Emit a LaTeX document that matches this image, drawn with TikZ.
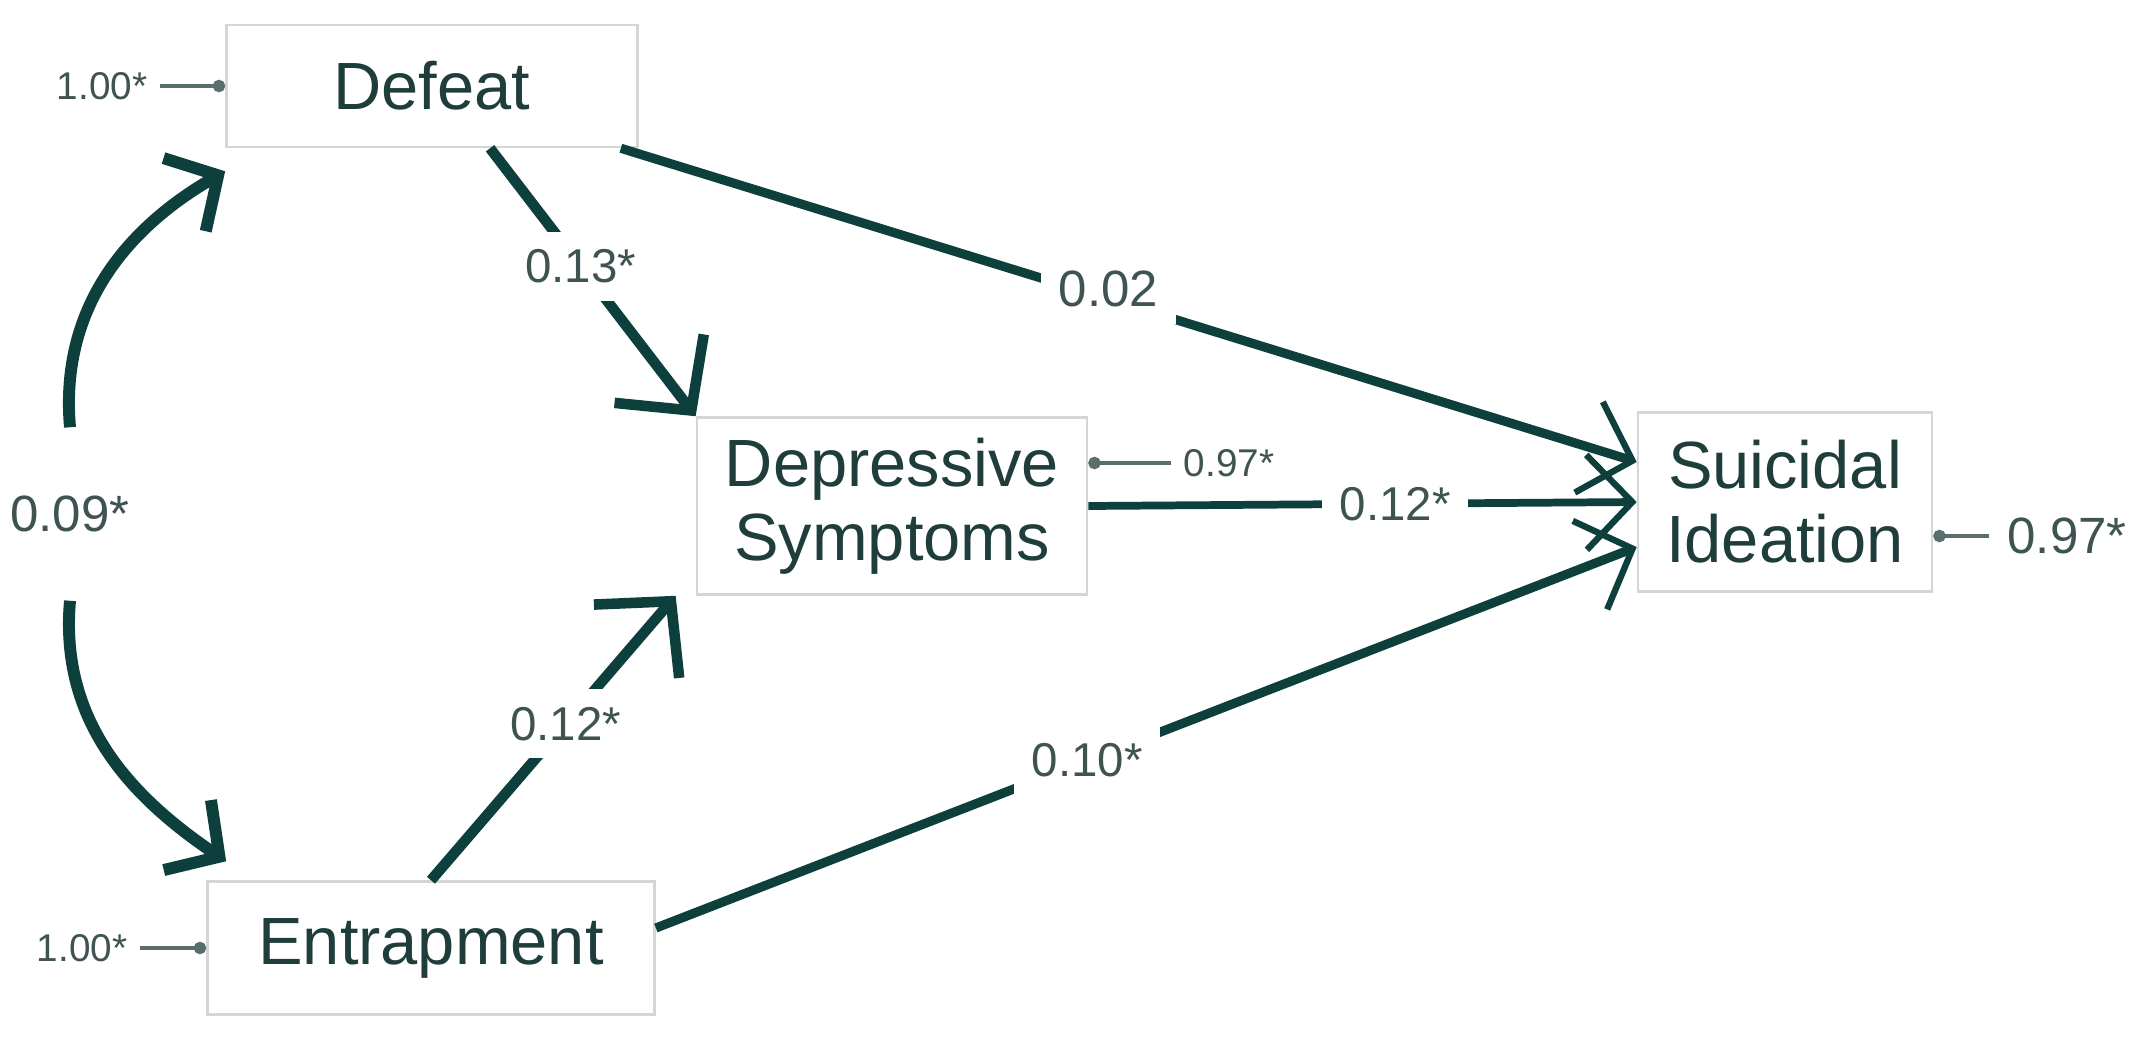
\documentclass[tikz,border=0pt]{standalone}
\usepackage{fontspec}
\setmainfont{Liberation Sans}
\usetikzlibrary{arrows.meta}
\definecolor{pathteal}{HTML}{0D3F3C}
\definecolor{boxgrey}{HTML}{D2D6D6}
\definecolor{txtteal}{HTML}{1E3D3B}
\definecolor{lblgrey}{HTML}{3E5352}
\definecolor{residgrey}{HTML}{5A6E6D}

\begin{document}
\begin{tikzpicture}[x=0.01cm,y=-0.01cm,
        var/.style={draw=boxgrey,line width=0.7pt,fill=white,text=txtteal,align=center,
            font=\fontsize{19}{21}\selectfont},
        coef/.style={pathteal,line width=2.6pt,-{Straight Barb[length=13pt,width=27pt,line width=1.8pt]}},
        bighead/.style={-{Straight Barb[length=15pt,width=32pt]}},
        covar/.style={pathteal,line width=3.4pt,-{Straight Barb[length=11pt,width=24pt]}},
        lbl/.style={fill=white,text=lblgrey,inner sep=5pt,font=\fontsize{13.5}{15}\selectfont},
        lblbig/.style={lbl,font=\fontsize{14.5}{16}\selectfont},
        resid/.style={draw=residgrey,line width=1.3pt,-{Circle[length=3.5pt]}},
        small/.style={text=lblgrey,font=\fontsize{11}{13}\selectfont}]

        \fill[white] (0,0) rectangle (2139,1051);
        \useasboundingbox (0,0) rectangle (2139,1051);

        \node[var,minimum width=4.11cm,minimum height=1.22cm] (D) at (432,86) {Defeat};
        \node[var,minimum width=4.47cm,minimum height=1.33cm] (E) at (431,948) {Entrapment};
        \node[var,minimum width=3.90cm,minimum height=1.77cm] (DS) at (892,506) {Depressive\\Symptoms};
        \node[var,minimum width=2.94cm,minimum height=1.79cm] (SI) at (1785,502) {Suicidal\\Ideation};

        \node[small] (errD) at (102,86) {1.00*};
        \node[small] (errE) at (82,948) {1.00*};
        \node[small] (errDS) at (1229,463) {0.97*};
        \node[lblbig,fill=none] (errSI) at (2067,536) {0.97*};
        \draw[resid] (errD) -- (D);
        \draw[resid] (errE) -- (E);
        \draw[resid] (errDS.west) -- (errDS.west -| DS.east);
        \draw[resid] (errSI.west) -- (errSI.west -| SI.east);

        \node[lblbig,fill=none,minimum height=1.72cm] (cov) at (70,514) {0.09*};
        \draw[covar] (cov.north) to[out=95,in=210] ([yshift=-0.23cm]D.south west);
        \draw[covar] (cov.south) to[out=265,in=146] ([xshift=0.2cm,yshift=0.19cm]E.north west);

        \draw[coef,bighead,line width=3pt] ([xshift=0.58cm]D.south) -- node[lbl,pos=0.44] (bDDS) {0.13*} (DS.north west);
        \draw[coef] ([xshift=-0.18cm]D.south east) -- node[lblbig,pos=0.48,yshift=0.1cm] (bDSI) {0.02} ([yshift=0.4cm]SI.west);
        \draw[coef,line width=2.2pt] (DS.east) -- node[lbl,pos=0.56] (bDSSI) {0.12*} (SI.west);
        \draw[coef,bighead,line width=3pt] (E.north) -- node[lbl,pos=0.55] (bEDS) {0.12*} ([xshift=-0.2cm]DS.south west);
        \draw[coef] ([yshift=0.2cm]E.east) -- node[lbl,pos=0.44] (bESI) {0.10*} ([yshift=-0.45cm]SI.west);
    \end{tikzpicture}
\end{document}
